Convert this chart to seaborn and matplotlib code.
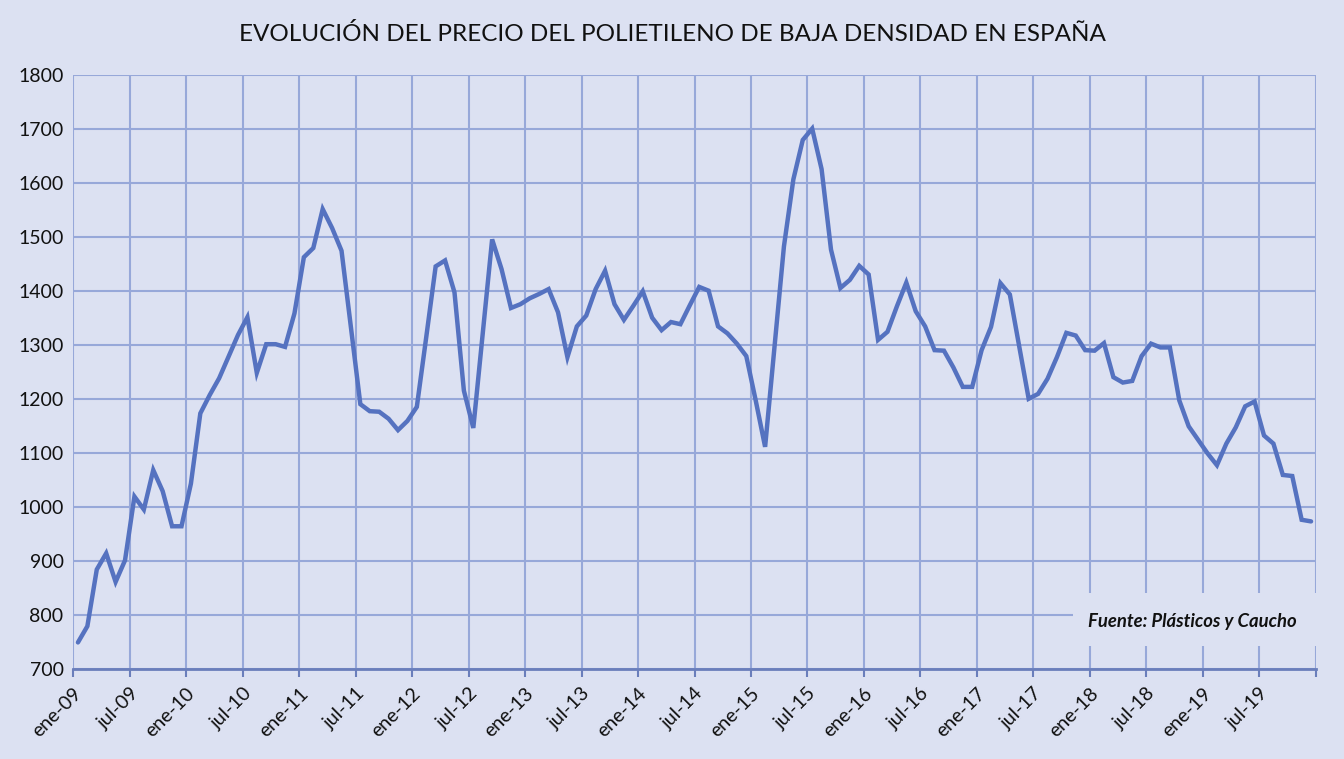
import numpy as np
import pandas as pd
import matplotlib
matplotlib.use("Agg")
import matplotlib.pyplot as plt
import seaborn as sns
from matplotlib.patches import Rectangle

# ---- data (monthly, ene-09 .. dic-19) ----
years = list(range(2009, 2020))
prices = [
    750, 780, 885, 915, 862, 902, 1020, 996, 1069, 1030, 965, 965,      # 2009
    1044, 1174, 1208, 1239, 1279, 1319, 1352, 1249, 1302, 1302, 1297, 1359,  # 2010
    1463, 1480, 1552, 1517, 1475, 1333, 1191, 1178, 1177, 1164, 1143, 1160,  # 2011
    1186, 1315, 1446, 1457, 1398, 1216, 1147, 1321, 1496, 1441, 1369, 1376,  # 2012
    1387, 1395, 1404, 1361, 1278, 1335, 1355, 1404, 1438, 1376, 1347, 1373,  # 2013
    1400, 1351, 1328, 1343, 1339, 1374, 1408, 1401, 1335, 1322, 1303, 1280,  # 2014
    1198, 1112, 1297, 1483, 1607, 1680, 1701, 1626, 1477, 1406, 1421, 1447,  # 2015
    1431, 1310, 1325, 1372, 1416, 1363, 1335, 1291, 1290, 1259, 1223, 1223,  # 2016
    1291, 1334, 1415, 1394, 1297, 1201, 1210, 1238, 1278, 1323, 1318, 1291,  # 2017
    1290, 1304, 1241, 1231, 1234, 1280, 1303, 1296, 1296, 1198, 1150, 1125,  # 2018
    1100, 1078, 1118, 1148, 1187, 1196, 1133, 1118, 1060, 1058, 977, 974,    # 2019
]
tick_labels = [f"{m}-{str(y)[2:]}" for y in years for m in ("ene", "jul")]

title = "EVOLUCIÓN DEL PRECIO DEL POLIETILENO DE BAJA DENSIDAD EN ESPAÑA"
source = "Fuente: Plásticos y Caucho"

df = pd.DataFrame({"mes": np.arange(len(prices)) + 0.5, "precio": prices})

# ---- style ----
bg = "#DCE1F2"
grid_c = "#97A8D9"
line_c = "#5572C0"
sns.set_theme(style="white")
plt.rcParams["font.family"] = ["Lato", "DejaVu Sans"]

fig = plt.figure(figsize=(13.44, 7.59), dpi=100, facecolor=bg)
ax = fig.add_axes([0.0545, 0.118, 0.9245, 0.783])
ax.set_facecolor(bg)

sns.lineplot(data=df, x="mes", y="precio", ax=ax, color=line_c, linewidth=3.2,
             solid_joinstyle="miter", zorder=3)

ax.set_xlim(0, len(prices))
ax.set_ylim(700, 1800)
ax.set_yticks(np.arange(700, 1801, 100))
ax.set_xticks(np.arange(0, len(prices) + 1, 6))
ax.set_xticklabels(tick_labels + [""], rotation=45, ha="right", rotation_mode="anchor",
                   fontsize=14, color="#111111")
ax.tick_params(axis="y", labelsize=14, labelcolor="#111111", length=0, pad=7)
ax.tick_params(axis="x", length=6, width=1.5, color="#6A7EBB", pad=5, bottom=True, direction="out")

ax.grid(True, color=grid_c, linewidth=1.5, zorder=0)
for s in ["top", "right", "left"]:
    ax.spines[s].set_visible(False)
ax.spines["bottom"].set_color("#6A7EBB")
ax.spines["bottom"].set_linewidth(2)
ax.set_xlabel("")
ax.set_ylabel("")

fig.text(0.5, 0.955, title, ha="center", va="center", fontsize=17.5, color="#111111")

# source box covering gridlines
ax.add_patch(Rectangle((0.805, 0.039), 0.195, 0.089, transform=ax.transAxes,
                       facecolor=bg, edgecolor="none", zorder=4))
ax.text(0.9004, 0.081, source, transform=ax.transAxes, ha="center", va="center",
        fontsize=13.3, fontstyle="italic", fontweight="bold", color="#111111", zorder=5)

fig.savefig("out.png", dpi=100, facecolor=bg)
